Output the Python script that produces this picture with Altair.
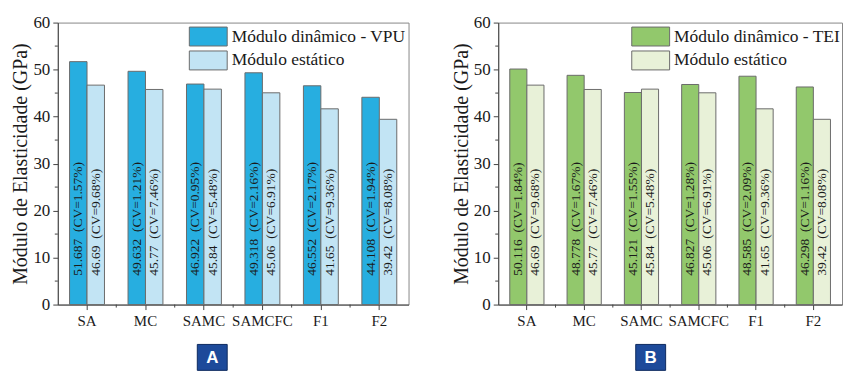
import altair as alt
import pandas as pd

categorias = ["SA", "MC", "SAMC", "SAMCFC", "F1", "F2"]
dinamico_vpu = [51.687, 49.632, 46.922, 49.318, 46.552, 44.108]
cv_vpu = ["1.57", "1.21", "0.95", "2.16", "2.17", "1.94"]
dinamico_tei = [50.116, 48.778, 45.121, 46.827, 48.585, 46.298]
cv_tei = ["1.84", "1.67", "1.55", "1.28", "2.09", "1.16"]
estatico = [46.69, 45.77, 45.84, 45.06, 41.65, 39.42]
cv_estatico = ["9.68", "7.46", "5.48", "6.91", "9.36", "8.08"]
y_ticks = [0, 10, 20, 30, 40, 50, 60]
y_minor = [5, 15, 25, 35, 45, 55]

SERIF = "Liberation Serif, Times New Roman, serif"
H = 283
TXT = "#1a1a1a"
EDGE = "#6b6b6b"
Y_TITLE = "Módulo de Elasticidade (GPa)"
GAP = "\u00a0\u00a0"


def panel(din, cv_din, nome_din, cores, letra, width, box_x, leg_x):
    s_est = "Módulo estático"
    rows = []
    for i, c in enumerate(categorias):
        rows.append(dict(cat=c, serie=nome_din, valor=din[i],
                         rotulo=f"{din[i]}{GAP}(CV={cv_din[i]}%)"))
        rows.append(dict(cat=c, serie=s_est, valor=estatico[i],
                         rotulo=f"{estatico[i]}{GAP}(CV={cv_estatico[i]}%)"))
    df = pd.DataFrame(rows)
    xscale = alt.Scale(domain=categorias, paddingInner=0, paddingOuter=0)
    yscale = alt.Scale(domain=[0, 60], nice=False, zero=True)
    xo = alt.XOffset("serie:N", sort=[nome_din, s_est],
                     scale=alt.Scale(domain=[nome_din, s_est], paddingInner=0, paddingOuter=0.675))
    x_enc = alt.X("cat:N", scale=xscale, sort=categorias, title=None,
                  axis=alt.Axis(labelAngle=0, labelFont=SERIF, labelFontSize=15, labelColor=TXT,
                                labelPadding=4, tickSize=5, tickColor="#444", domainColor="#444",
                                grid=False))
    y_enc = alt.Y("valor:Q", scale=yscale, title=Y_TITLE,
                  axis=alt.Axis(values=y_ticks, labelFont=SERIF, labelFontSize=17, labelColor=TXT,
                                labelPadding=3, tickSize=5, tickColor="#444", domainColor="#444",
                                titleFont=SERIF, titleFontSize=20, titleFontWeight="normal",
                                titleColor=TXT, titlePadding=2, grid=False))
    base = alt.Chart(df)
    bars = base.mark_bar(stroke=EDGE, strokeWidth=1).encode(
        x=x_enc,
        xOffset=xo,
        y=y_enc,
        color=alt.Color("serie:N", sort=[nome_din, s_est],
                        scale=alt.Scale(domain=[nome_din, s_est], range=cores),
                        legend=alt.Legend(title=None, orient="none", legendX=leg_x, legendY=4,
                                          symbolType="M-2,-1H2V1H-2Z", symbolSize=361,
                                          symbolStrokeColor=EDGE, symbolStrokeWidth=1,
                                          symbolOpacity=1, labelFont=SERIF, labelFontSize=17.5,
                                          labelColor=TXT, labelOffset=13.5, rowPadding=0,
                                          padding=0, labelLimit=400)),
    )
    labels = base.mark_text(angle=270, align="left", baseline="middle", dx=29,
                            font=SERIF, fontSize=13.5, color="#1a1a1a").encode(
        x=alt.X("cat:N", scale=xscale, sort=categorias, title=None),
        xOffset=xo,
        y=alt.datum(0),
        text="rotulo:N",
    )
    minor_y = alt.Chart(pd.DataFrame({"valor": y_minor})).mark_rule(color="#444").encode(
        y=alt.Y("valor:Q", scale=yscale, title=Y_TITLE),
        x=alt.value(-3), x2=alt.value(0),
    )
    minor_x = alt.Chart(pd.DataFrame({"cat": categorias[1:]})).mark_rule(color="#444").encode(
        x=alt.X("cat:N", scale=xscale, sort=categorias, bandPosition=0, title=None),
        y=alt.value(H), y2=alt.value(H + 3),
    )
    ldf = pd.DataFrame({"letra": [letra]})
    box = alt.Chart(ldf).mark_rect(fill="#1d4a9a", stroke="#0e2a5e", strokeWidth=1).encode(
        x=alt.value(box_x), x2=alt.value(box_x + 30),
        y=alt.value(323), y2=alt.value(349),
    )
    letra_txt = alt.Chart(ldf).mark_text(color="white", font="Liberation Sans", fontWeight="bold",
                                         fontSize=17, align="center", baseline="middle").encode(
        x=alt.value(box_x + 15), y=alt.value(337), text="letra:N",
    )
    return alt.layer(bars, labels, minor_y, minor_x, box, letra_txt).properties(width=width, height=H)


left = panel(dinamico_vpu, cv_vpu, "Módulo dinâmico - VPU", ["#27aee0", "#c2e4f4"], "A", 352, 140, 141)
right = panel(dinamico_tei, cv_tei, "Módulo dinâmico - TEI", ["#92c86c", "#e8f1d8"], "B", 345, 138, 143)

chart = alt.hconcat(left, right, spacing=41).resolve_scale(
    color="independent", xOffset="independent", x="independent", y="independent"
).configure_view(
    stroke="#888", strokeWidth=1
).properties(
    padding={"left": 10, "top": 12, "right": 0, "bottom": 0}, background="white"
)

chart.save("out.html", embed_options={"renderer": "svg", "actions": False})
